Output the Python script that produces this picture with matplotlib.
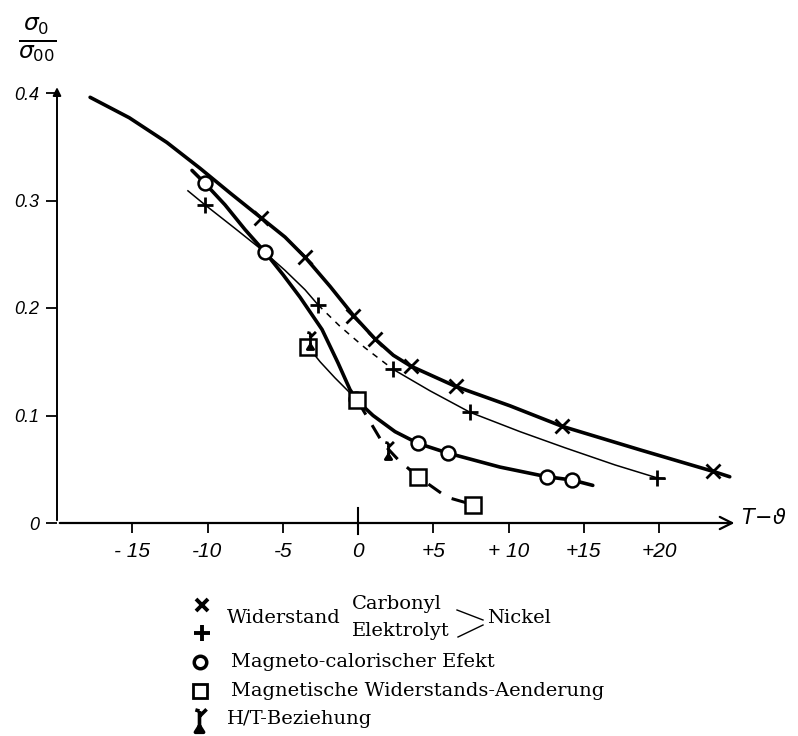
import matplotlib.pyplot as plt
from matplotlib.path import Path
from matplotlib.lines import Line2D

# ---- values -----------------------------------------------------------
# Widerstand, Carbonyl-Nickel (thick line, x markers)
carb_x = [-17.8, -15.2, -12.7, -10.5, -8.5, -6.45, -4.85, -3.5, -1.85, -0.3,
          1.15, 2.35, 3.5, 6.5, 10.1, 13.55, 18.75, 23.6, 24.7]
carb_y = [0.396, 0.377, 0.354, 0.330, 0.307, 0.284, 0.266, 0.247, 0.220, 0.193,
          0.171, 0.156, 0.146, 0.127, 0.109, 0.090, 0.068, 0.048, 0.043]
carb_px = [-6.45, -3.5, -0.3, 1.15, 3.5, 6.5, 13.55, 23.6]
carb_py = [0.284, 0.247, 0.193, 0.171, 0.146, 0.127, 0.090, 0.048]

# Widerstand, Elektrolyt-Nickel (thin line, + markers, dotted gap)
elek1_x = [-11.3, -10.17, -8.17, -6.38, -4.85, -3.52, -2.66]
elek1_y = [0.309, 0.296, 0.274, 0.254, 0.235, 0.217, 0.203]
elek_gap_x = [-2.66, -1.2, 0.46, 2.33]
elek_gap_y = [0.203, 0.183, 0.163, 0.143]
elek2_x = [2.33, 4.78, 7.44, 10.76, 13.75, 17.08, 19.87, 20.4]
elek2_y = [0.143, 0.123, 0.103, 0.085, 0.070, 0.054, 0.042, 0.041]
elek_px = [-10.17, -2.66, 2.33, 7.44, 19.87]
elek_py = [0.296, 0.203, 0.143, 0.103, 0.042]

# Magneto-calorischer Effekt (thick line, circles)
mag_x = [-11.03, -10.17, -8.84, -7.51, -6.18, -4.98, -3.85, -2.39, -1.33, -0.53,
         0.0, 1.0, 2.46, 4.0, 5.98, 9.44, 12.56, 14.22, 15.6]
mag_y = [0.328, 0.316, 0.296, 0.273, 0.252, 0.231, 0.210, 0.180, 0.149, 0.124,
         0.113, 0.100, 0.085, 0.074, 0.065, 0.052, 0.043, 0.040, 0.035]
mag_px = [-10.17, -6.18, -0.1, 4.0, 5.98, 12.56, 14.22]
mag_py = [0.316, 0.252, 0.115, 0.074, 0.065, 0.043, 0.040]

# Magnetische Widerstands-Aenderung (thin line, squares) + H/T (dashed)
wid_x = [-3.32, -2.52, -1.53, -0.53, -0.07]
wid_y = [0.164, 0.150, 0.135, 0.121, 0.114]
ht_x = [0.0, 1.66, 2.66, 3.99, 5.91, 7.64]
ht_y = [0.113, 0.074, 0.059, 0.043, 0.024, 0.017]
sq_px = [-3.32, -0.07, 3.99, 7.64]
sq_py = [0.164, 0.114, 0.043, 0.017]
htm_px = [2.0, -3.2]
htm_py = [0.068, 0.170]

xticks = [-15, -10, -5, 0, 5, 10, 15, 20]
xlabels = ["- 15", "-10", "-5", "0", "+5", "+ 10", "+15", "+20"]
yticks = [0, 0.1, 0.2, 0.3, 0.4]
ylabels = ["0", "0.1", "0.2", "0.3", "0.4"]

# H/T marker: stem, serif, hook, filled foot
ht_marker = Path(
    [(0, -0.6), (0, 0.8), (0, 0.8), (-0.35, 0.9), (0, 0.35), (0.6, 0.95),
     (-0.35, -1.0), (0.35, -1.0), (0, -0.45), (-0.35, -1.0)],
    [Path.MOVETO, Path.LINETO, Path.MOVETO, Path.LINETO, Path.MOVETO, Path.LINETO,
     Path.MOVETO, Path.LINETO, Path.LINETO, Path.CLOSEPOLY])

hand = dict(family="Liberation Sans", style="italic")

fig = plt.figure(figsize=(7.98, 7.36), dpi=100)
ax = fig.add_axes([57 / 798, (736 - 523) / 736, 692.3 / 798, 451.5 / 736])
ax.set_xlim(-20, 26)
ax.set_ylim(0, 0.42)
for s in ax.spines.values():
    s.set_visible(False)

thick, thin = 2.6, 1.1
ax.plot(carb_x, carb_y, color="black", lw=thick, solid_capstyle="round",
        solid_joinstyle="round")
ax.plot(carb_px, carb_py, "x", color="black", ms=10, mew=2)
ax.plot(elek1_x, elek1_y, color="black", lw=thin)
ax.plot(elek_gap_x, elek_gap_y, color="black", lw=thin, dashes=(4, 4))
ax.plot(elek2_x, elek2_y, color="black", lw=thin)
ax.plot(elek_px, elek_py, "+", color="black", ms=11, mew=2)
ax.plot(mag_x, mag_y, color="black", lw=thick, solid_capstyle="round",
        solid_joinstyle="round")
ax.plot(mag_px, mag_py, "o", color="black", mfc="white", ms=10, mew=1.8)
ax.plot(wid_x, wid_y, color="black", lw=thin)
ax.plot(ht_x, ht_y, color="black", lw=2.2, dashes=(5, 4))
ax.plot(sq_px, sq_py, "s", color="black", mfc="white", ms=11, mew=1.8)
ax.plot(htm_px, htm_py, marker=ht_marker, ls="none", color="black", ms=13, mew=2)

# hand-drawn axes with arrows
ax.annotate("", xy=(25.2, 0), xytext=(-20, 0), annotation_clip=False,
            arrowprops=dict(arrowstyle="->", lw=1.6, color="black", mutation_scale=22))
ax.annotate("", xy=(-20, 0.408), xytext=(-20, 0), annotation_clip=False,
            arrowprops=dict(arrowstyle="-|>", lw=1.4, color="black", mutation_scale=12))
ax.plot([0, 0], [-0.01, 0.014], color="black", lw=1.5, clip_on=False)

ax.set_xticks(xticks, xlabels, fontsize=15, **hand)
ax.set_yticks(yticks, ylabels, fontsize=13, **hand)
ax.tick_params(axis="x", length=7, width=1.3, pad=7)
ax.tick_params(axis="y", length=8, width=1.3, pad=5)

ax.text(25.45, 0.005, r"$T\!-\!\vartheta$", fontsize=15, ha="left", va="center")
fig.text(37 / 798, 1 - 40 / 736, r"$\frac{\sigma_0}{\sigma_{00}}$", fontsize=24,
         ha="center", va="center")

# legend drawn in pixel space
lg = fig.add_axes([0, 0, 1, 1])
lg.set_xlim(0, 798)
lg.set_ylim(736, 0)
lg.axis("off")
serif = dict(family="DejaVu Serif", fontsize=14, va="center", ha="left")
lg.plot([202], [605], "x", color="black", ms=9, mew=2.8)
lg.plot([202], [633], "+", color="black", ms=12, mew=2.8)
lg.plot([200], [662], "o", color="black", mfc="white", ms=9, mew=2.5)
lg.plot([200], [691], "s", color="black", mfc="white", ms=10, mew=2)
lg.plot([199], [720], marker=ht_marker, color="black", ms=17, mew=2.6)
lg.text(227, 618, "Widerstand", **serif)
lg.text(352, 604, "Carbonyl", **serif)
lg.text(352, 631, "Elektrolyt", **serif)
lg.text(487, 618, "Nickel", **serif)
lg.add_line(Line2D([457, 483], [610, 620], color="black", lw=1))
lg.add_line(Line2D([458, 483], [637, 625], color="black", lw=1))
lg.text(231, 662, "Magneto-calorischer Efekt", **serif)
lg.text(231, 691, "Magnetische Widerstands-Aenderung", **serif)
lg.text(227, 719, "H/T-Beziehung", **serif)

fig.savefig("out.png", dpi=100)
